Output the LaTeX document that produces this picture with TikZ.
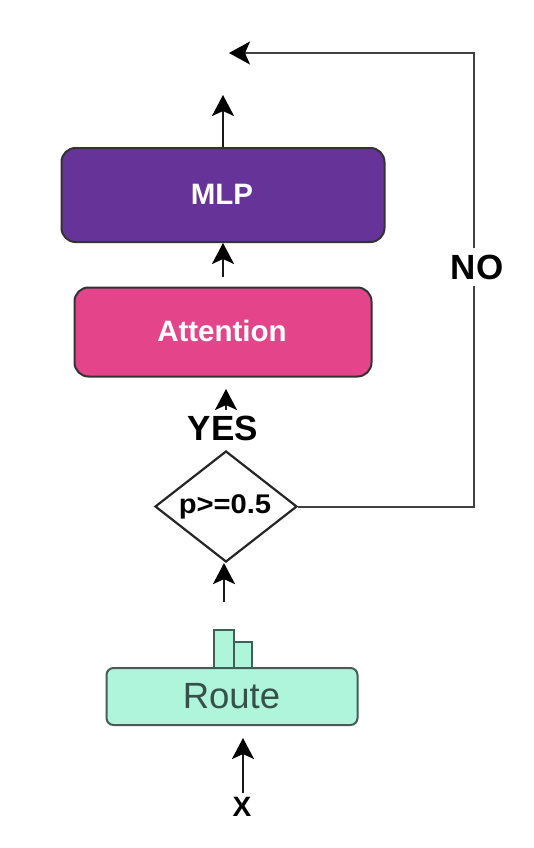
\documentclass[tikz,border=0pt]{standalone}
\usepackage{fontspec}
\setmainfont{Liberation Sans}
\usetikzlibrary{arrows.meta,shapes.geometric}
\definecolor{mlpfill}{HTML}{663399}
\definecolor{attfill}{HTML}{E3448A}
\definecolor{routefill}{HTML}{AFF5DC}
\definecolor{routeline}{HTML}{3F5F57}
\newcommand{\fsz}[1]{\fontsize{#1}{#1}\selectfont}
\tikzset{
  box/.style={draw=#1,line width=2pt,rounded corners=14pt,inner sep=0pt,anchor=north west},
  lbl/.style={inner sep=0pt,text=black,font=\fsz{35}\bfseries},
  conn/.style={draw=black!90,line width=2.4pt,-{Stealth[length=21pt,width=22pt,inset=5pt,color=black,fill=black]}},
  loopline/.style={draw=black!75,line width=2pt,-{Stealth[length=21pt,width=23pt,inset=5pt,color=black,fill=black]}}
}
\begin{document}
\begin{tikzpicture}[x=1pt,y=-1pt]
\useasboundingbox (0,0) rectangle (534,848);
\node[box=black!80,fill=mlpfill,minimum width=323pt,minimum height=94pt] (mlp) at (60.5,147) {};
\node[inner sep=0pt,text=white,font=\fsz{29.5}\bfseries] (mlpt) at (222,194) {MLP};
\node[box=black!80,fill=attfill,minimum width=297pt,minimum height=89pt] (att) at (73.5,286.5) {};
\node[inner sep=0pt,text=white,font=\fsz{29.5}\bfseries] (attt) at (222,331) {Attention};
% route
\node[draw=routeline,fill=routefill,line width=2pt,minimum width=20pt,minimum height=38pt,inner sep=0pt,anchor=north west] (bara) at (212.5,629) {};
\node[draw=routeline,fill=routefill,line width=2pt,minimum width=18pt,minimum height=26pt,inner sep=0pt,anchor=north west] (barb) at (232.5,641) {};
\node[box=routeline,fill=routefill,minimum width=251pt,minimum height=57pt,rounded corners=7pt] (route) at (105.5,667) {};
\node[inner sep=0pt,text=routeline!85!black,font=\fsz{36.5}] (routet) at (231.5,696) {Route};
% diamond
\node[diamond,aspect=1.28,draw=black!85,line width=2.2pt,fill=white,minimum width=142pt,minimum height=111pt,inner sep=0pt] (dec) at (226,506.5) {};
\node[inner sep=0pt,font=\fsz{27},xscale=1.08,text=black] (dect) at (225,507) {\bfseries p>=0.5};
\node[lbl] (yes) at (223,428) {YES};
\node[lbl,inner sep=6pt] (no) at (477,267) {NO};
\node[inner sep=0pt,font=\fsz{28}\bfseries] (xin) at (242,807) {X};
% free ends
\coordinate (out) at (223,95);
\coordinate (yestip) at (226,389);
\coordinate (yesbase) at (226,410);
\coordinate (dbase) at (224,602);
\coordinate (mbase) at (223,277);
\coordinate (xbase) at (243,793);
\coordinate (xtip) at (243,738);
\coordinate (corner2) at (474,53);
\coordinate (ret) at (229,53);
% connectors
\draw[conn] (mlp.north -| out) -- (out);
\draw[conn] (mbase) -- (mbase |- mlp.south);
\draw[conn] (yesbase) -- (yestip);
\draw[conn] (dbase) -- (dbase |- dec.south);
\draw[conn] (xbase) -- (xtip);
\draw[draw=black!75,line width=2pt] (dec.east) -| (no.south -| corner2);
\draw[loopline] (no.north -| corner2) -- (corner2) -- (ret);
\end{tikzpicture}
\end{document}
